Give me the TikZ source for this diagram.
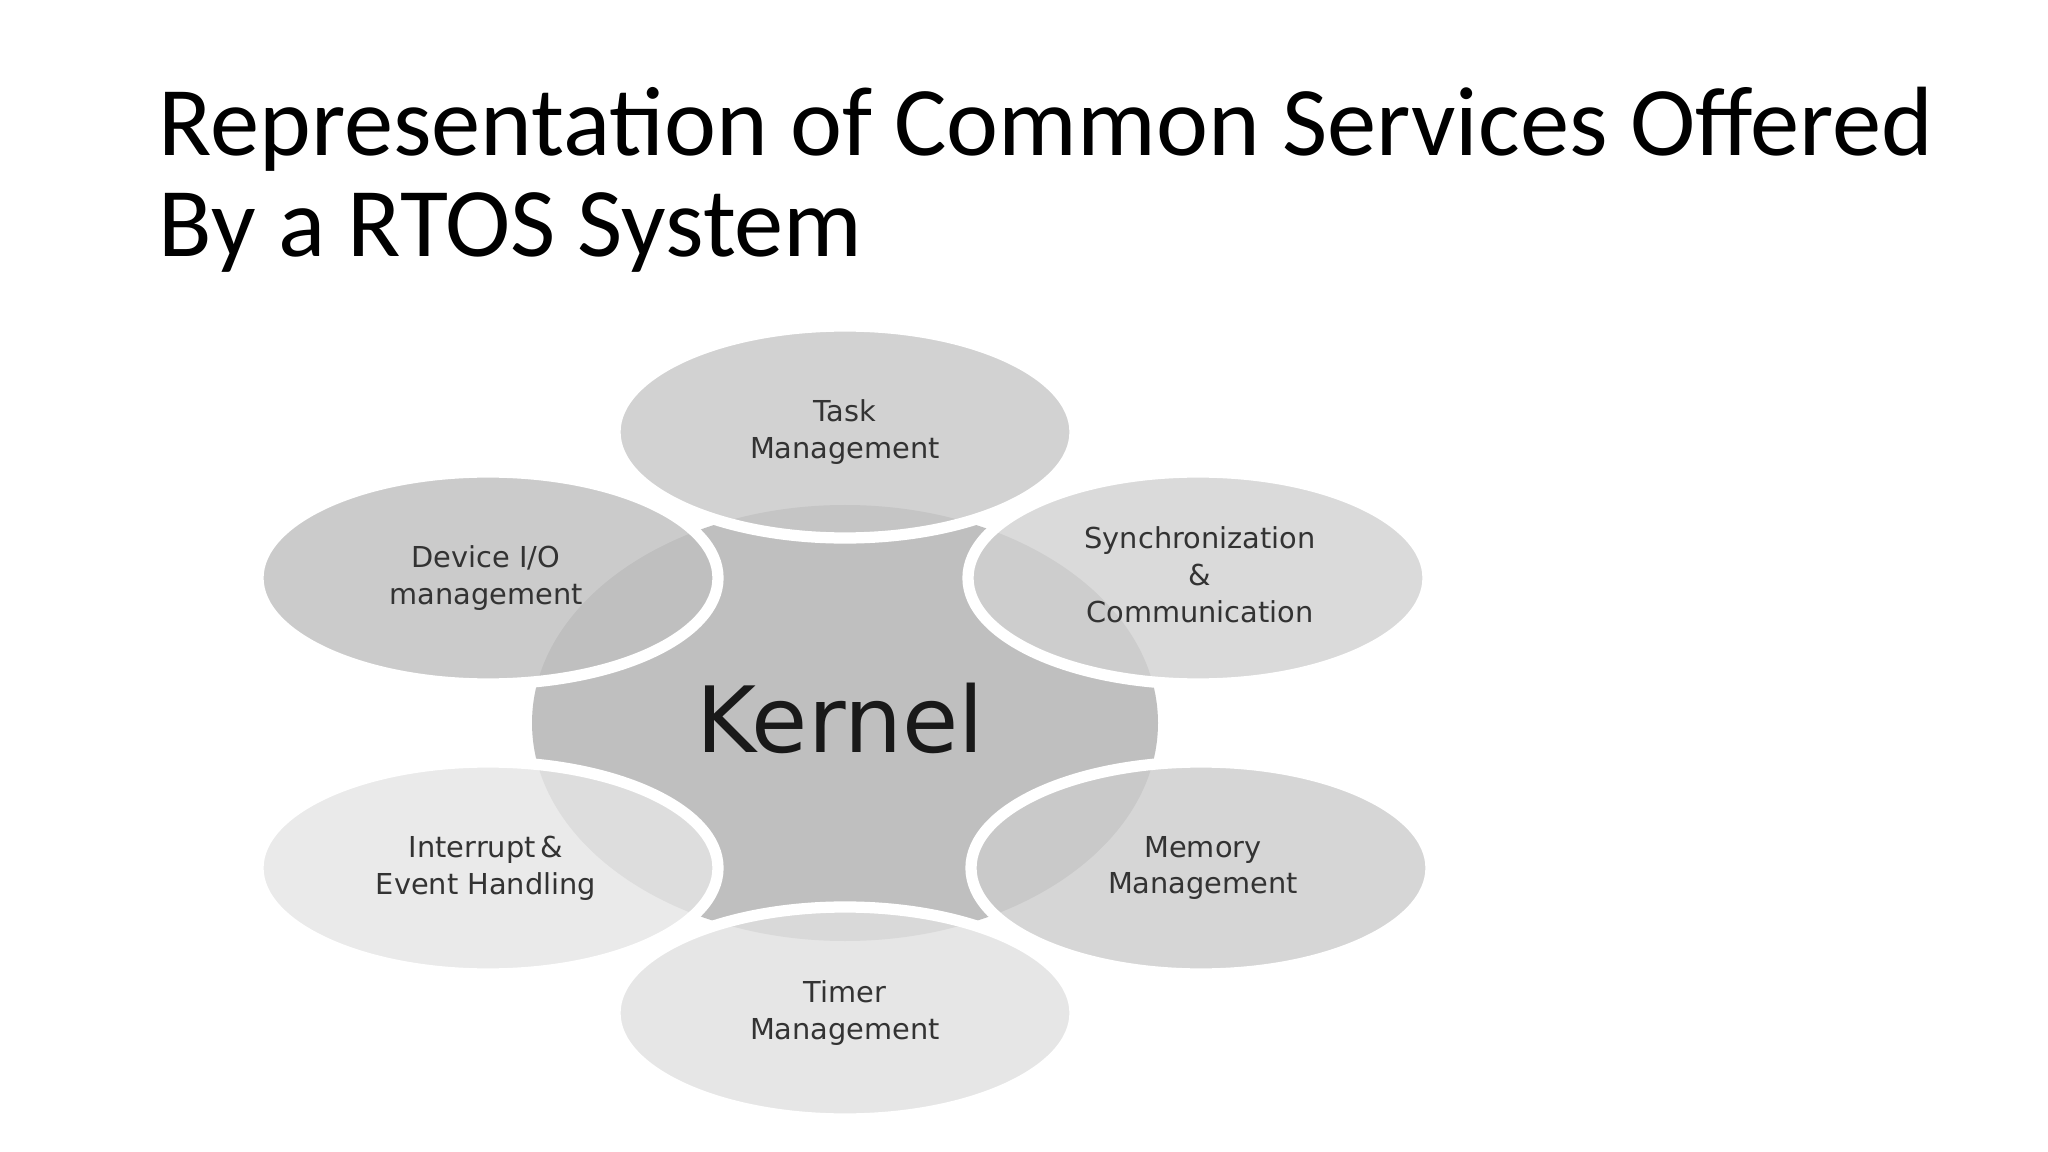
\documentclass[tikz,border=0pt]{standalone}
\usepackage{fontspec}
\setmainfont{Carlito}
\newfontfamily\lblfont{DejaVu Sans}
\begin{document}
\begin{tikzpicture}[x=0.01cm,y=-0.01cm,
  svc/.style={ellipse,draw=white,line width=8\pgflinewidth},
  lbl/.style={font=\lblfont\fontsize{8.2}{10.5}\selectfont,text=black!80,align=center}]
\useasboundingbox (0,0) rectangle (2048,1152);
\fill[white] (0,0) rectangle (2048,1152);
\node[anchor=base west,inner sep=0,font=\fontsize{28}{29}\selectfont\addfontfeatures{Ligatures=Common},align=left] (title) at (158,156) {Representation of Common Services Offered};
\node[anchor=base west,inner sep=0,font=\fontsize{28}{29}\selectfont] (title2) at (158,257) {By a RTOS System};
\fill[black!25] (845,723) ellipse [x radius=313, y radius=218];
\coordinate (kc) at (845,723);
\foreach \n/\x/\y/\c in {task/845/432/black!22, sync/1198/578/black!18, dev/488/578/black!25, mem/1201/868/black!20, intr/488/868/black!10, tim/845/1013/black!12}{
  \fill[\c,opacity=0.8] (\x,\y) ellipse [x radius=230, y radius=106];
  \draw[white,line width=3.2pt] (\x,\y) ellipse [x radius=230, y radius=106];
  \coordinate (\n) at (\x,\y);
}
\node[font=\lblfont\fontsize{26}{30}\selectfont,text=black!90] (kern) at (840,718) {Kernel};
\node[lbl] (t1) at (845,432) {Task\\Management};
\node[lbl] (t2) at (1200,575) {Synchronization\\\&\\Communication};
\node[lbl] (t3) at (486,578) {Device I/O\\management};
\node[lbl] (t4) at (1203,868) {Memory\\Management};
\node[lbl] (t5) at (486,868) {Interrupt\,\&\\Event Handling};
\node[lbl] (t6) at (845,1013) {Timer\\Management};
\end{tikzpicture}
\end{document}
